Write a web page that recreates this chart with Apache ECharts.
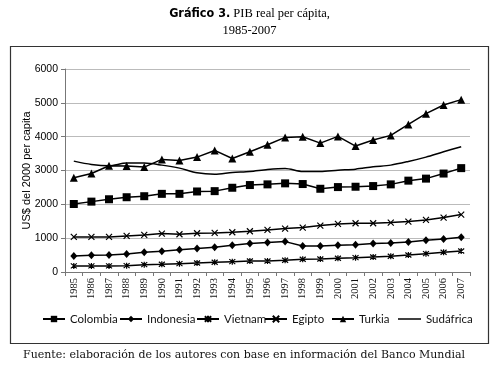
<!DOCTYPE html>
<html><head><meta charset="utf-8">
<script src="https://cdn.jsdelivr.net/npm/echarts@6/dist/echarts.min.js"></script>
<style>html,body{margin:0;padding:0;background:#fff}#c{width:499px;height:370px}</style>
</head><body><div id="c"></div>
<script>
const years = ['1985','1986','1987','1988','1989','1990','1991','1992','1993','1994','1995','1996','1997','1998','1999','2000','2001','2002','2003','2004','2005','2006','2007'];
const colombia = [2010,2080,2150,2210,2240,2310,2310,2380,2390,2490,2570,2590,2620,2600,2460,2510,2520,2540,2590,2700,2760,2910,3070];
const indonesia = [474,494,503,533,582,612,661,691,730,790,839,869,898,770,770,790,809,839,859,888,938,977,1027];
const vietnam = [180,180,180,188,217,227,247,266,286,306,326,326,345,375,385,405,424,444,464,503,543,582,622];
const egipto = [1036,1036,1036,1066,1096,1135,1115,1145,1155,1175,1204,1244,1283,1313,1372,1421,1441,1441,1461,1491,1540,1609,1698];
const turkia = [2784,2912,3139,3135,3100,3327,3297,3396,3593,3356,3554,3761,3978,3998,3810,4008,3722,3899,4038,4363,4679,4936,5094];
const sudafrica = [3277,3179,3139,3218,3218,3159,3070,2932,2892,2942,2971,3030,3060,2971,2971,3011,3040,3110,3159,3267,3396,3554,3702];
const yTicks = [0,1000,2000,3000,4000,5000,6000];

const chart = echarts.init(document.getElementById('c'), null, {renderer:'canvas'});
const XPATH = 'path://M0,0L10,10M10,0L0,10';
const STAR = 'path://M0,0L10,10M10,0L0,10M5,-1L5,11';
function mk(name, data, symbol, size, extra) {
  return Object.assign({
    name, type:'line', data, symbol, symbolSize:size, showSymbol: symbol !== 'none',
    lineStyle:{color:'#000', width:1.5},
    itemStyle:{color:'#000', borderColor:'#000', borderWidth: (symbol.indexOf('path')===0)?1.2:0},
    emphasis:{disabled:true}, animation:false
  }, extra||{});
}
const legendFont = {fontFamily:'Lato', fontSize:11.5, color:'#111'};
const legPos = [['Colombia',42],['Indonesia',119],['Vietnam',196],['Egipto',264],['Turkia',331]];
const legends = legPos.map(([n,x])=>({data:[n], left:x, top:313, padding:0, itemWidth:22, itemHeight:8, itemGap:0, textStyle:legendFont, selectedMode:false}));
legends.push({data:[{name:'Sudáfrica', icon:'rect'}], left:398, top:313, padding:0, itemWidth:23, itemHeight:1.5, itemGap:0, textStyle:legendFont, selectedMode:false});
chart.setOption({
  backgroundColor:'#fff',
  animation:false,
  title:{
    left:'center', top:0,
    text:'{b|Gráfico 3.}{r| PIB real per cápita,}\n{r|1985-2007}',
    textStyle:{
      fontWeight:'normal',
      rich:{
        b:{fontFamily:'"Liberation Sans Narrow","DejaVu Sans Condensed","Roboto",sans-serif', fontWeight:'bold', fontSize:12.5, color:'#000', lineHeight:17},
        r:{fontFamily:'"Liberation Serif",serif', fontWeight:'normal', fontSize:12.5, color:'#000', lineHeight:17}
      }
    }
  },
  graphic:[
    {type:'rect', shape:{x:10.5, y:46.5, width:478, height:297}, style:{fill:'none', stroke:'#333', lineWidth:1.2}, silent:true},
    {type:'text', left:23, top:350, style:{text:'Fuente: elaboración de los autores con base en información del Banco Mundial', fontFamily:'DejaVu Serif', fontSize:11, fill:'#111'}}
  ],
  grid:{left:65, right:29, top:69, bottom:98},
  xAxis:{
    type:'category', data:years, boundaryGap:true,
    axisLine:{lineStyle:{color:'#777', width:1}},
    axisTick:{show:true, length:4, lineStyle:{color:'#777'}},
    axisLabel:{rotate:90, fontFamily:'Liberation Serif', fontSize:10.5, color:'#111', margin:6, interval:0}
  },
  yAxis:{
    type:'value', min:0, max:6000, interval:1000,
    name:'US$ del 2000 per capita', nameLocation:'middle', nameGap:33, nameMoveOverlap:false,
    nameTextStyle:{fontFamily:'Liberation Sans', fontSize:11, color:'#000'},
    axisLine:{show:true, lineStyle:{color:'#777'}},
    axisTick:{show:true, length:4, lineStyle:{color:'#777'}},
    axisLabel:{fontFamily:'Liberation Sans', fontSize:10.5, color:'#000', margin:7,
      formatter:v=> yTicks.indexOf(v)>=0 ? String(v) : ''},
    splitLine:{lineStyle:{color:'#bbb', width:1}}
  },
  legend: legends,
  series:[
    mk('Colombia', colombia, 'rect', 8),
    mk('Indonesia', indonesia, 'diamond', [7,8]),
    mk('Vietnam', vietnam, STAR, 6),
    mk('Egipto', egipto, XPATH, 6),
    mk('Turkia', turkia, 'triangle', 8),
    mk('Sudáfrica', sudafrica, 'none', 0, {smooth:0.3})
  ]
});
</script></body></html>
